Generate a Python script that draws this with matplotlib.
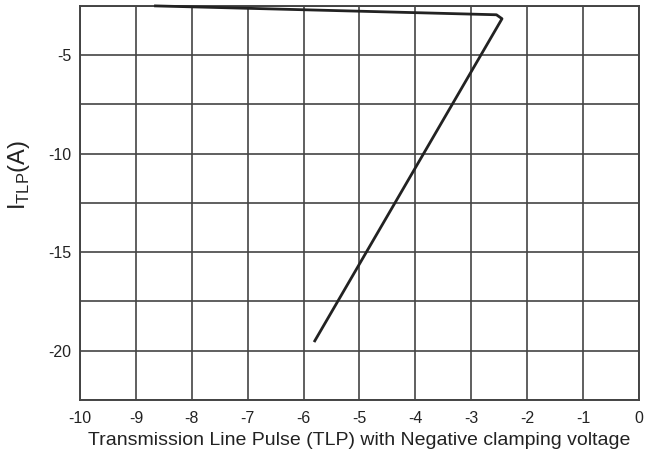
import numpy as np
import matplotlib.pyplot as plt

plt.rcParams['font.family'] = ['Liberation Sans', 'DejaVu Sans']

# TLP curve (V, A)
v_tlp = [-8.65, -2.55, -2.45, -5.8]
i_tlp = [-2.5, -2.95, -3.15, -19.5]

x_ticks = np.arange(-10, 1, 1)
y_ticks = [-20, -15, -10, -5]
y_grid = np.arange(-22.5, -2.4, 2.5)

fig = plt.figure(figsize=(6.56, 4.54), dpi=100)
ax = fig.add_axes([0.122, 0.119, 0.852, 0.868])

ax.plot(v_tlp, i_tlp, color='#222222', linewidth=2.0, solid_joinstyle='round',
        clip_on=False, zorder=3)

ax.set_xlim(-10, 0)
ax.set_ylim(-22.5, -2.5)
ax.set_xticks(x_ticks)
ax.set_xticklabels([str(t) for t in x_ticks])
ax.set_yticks(y_grid, minor=True)
ax.set_yticks(y_ticks)
ax.set_yticklabels([str(t) for t in y_ticks])

ax.grid(True, which='both', color='#444444', linewidth=1.2)
ax.tick_params(which='both', length=0, labelsize=11.5, colors='#222222')
ax.tick_params(axis='x', pad=8)
ax.tick_params(axis='y', pad=6)
for s in ax.spines.values():
    s.set_color('#444444')
    s.set_linewidth(1.4)

ax.set_xlabel('Transmission Line Pulse (TLP) with Negative clamping voltage',
              fontsize=14, color='#222222', labelpad=4)
ax.set_ylabel(r'I$_{\mathregular{TLP}}$(A)', fontsize=17, color='#222222')
ax.yaxis.set_label_coords(-0.086, 0.57)

fig.savefig('out.png', dpi=100)
